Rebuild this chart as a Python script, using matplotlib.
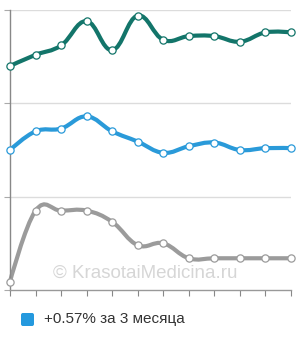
import numpy as np
import matplotlib.pyplot as plt
from matplotlib.path import Path
from matplotlib.patches import PathPatch, FancyBboxPatch

plt.rcParams['font.family'] = ['Liberation Sans', 'DejaVu Sans']

# --- data (value scale 0..300, three bands) ---
months = list(range(12))
teal_vals = [240, 252, 262, 288, 257, 294, 268, 272, 272, 266, 276, 276]
blue_vals = [150, 170, 173, 186, 170, 159, 147, 154, 158, 150, 152, 152]
gray_vals = [9, 85, 85, 85, 73, 48, 50, 34, 34, 34, 34, 34]
grid_levels = [0, 100, 200, 300]
legend_text = "+0.57% за 3 месяца"
watermark = "© KrasotaiMedicina.ru"

teal = '#13756a'
blue = '#2a9ad9'
gray = '#9b9b9b'


def spline_path(xs, ys, smoothing=1.5):
    # bezier spline through the points (highcharts-like)
    n = len(xs)
    den = smoothing + 1
    left, right = [], []
    for i in range(n):
        if i == 0 or i == n - 1:
            left.append((xs[i], ys[i]))
            right.append((xs[i], ys[i]))
            continue
        lx = (smoothing * xs[i] + xs[i - 1]) / den
        ly = (smoothing * ys[i] + ys[i - 1]) / den
        rx = (smoothing * xs[i] + xs[i + 1]) / den
        ry = (smoothing * ys[i] + ys[i + 1]) / den
        corr = (ry - ly) * (rx - xs[i]) / (rx - lx) + ys[i] - ry
        left.append((lx, ly + corr))
        right.append((rx, ry + corr))
    verts = [(xs[0], ys[0])]
    codes = [Path.MOVETO]
    for i in range(1, n):
        verts += [right[i - 1], left[i], (xs[i], ys[i])]
        codes += [Path.CURVE4] * 3
    return Path(verts, codes)


fig = plt.figure(figsize=(3.0, 3.4), dpi=100)
ax = fig.add_axes([10 / 300, (340 - 290) / 340, 281 / 300, 280 / 340])
ax.set_xlim(0, 11)
ax.set_ylim(0, 300)

for g in grid_levels[1:]:
    ax.axhline(g, color='#dcdcdc', lw=1.0, zorder=0)

for vals, col in [(teal_vals, teal), (blue_vals, blue), (gray_vals, gray)]:
    p = spline_path(months, vals)
    ax.add_patch(PathPatch(p, facecolor='none', edgecolor=col, lw=3.0,
                           capstyle='round', joinstyle='round', zorder=2, clip_on=False))
    ax.plot(months, vals, 'o', ms=5.2, mfc='white', mec=col, mew=0.9,
            zorder=3, clip_on=False)

ax.text(5.3, 18, watermark, fontsize=13.5, color='#d6d6d6',
        ha='center', va='center', zorder=1)

for s in ['top', 'right']:
    ax.spines[s].set_visible(False)
ax.spines['left'].set_color('#888888')
ax.spines['bottom'].set_color('#999999')
ax.spines['left'].set_linewidth(1.0)
ax.spines['bottom'].set_linewidth(1.0)
ax.set_xticks(months)
ax.set_yticks(grid_levels)
ax.set_xticklabels([])
ax.set_yticklabels([])
ax.tick_params(axis='x', length=4, color='#888888', width=0.8)
ax.tick_params(axis='y', length=4, color='#aaaaaa', width=0.8)

# legend
fig.patches.append(FancyBboxPatch((21 / 300, 1 - 326 / 340), 13 / 300, 13 / 340,
                                  boxstyle='round,pad=0,rounding_size=0.006',
                                  transform=fig.transFigure, facecolor='#2499de',
                                  edgecolor='none'))
fig.text(44 / 300, 1 - 319.5 / 340, legend_text, fontsize=11, color='#333333',
         va='center', ha='left')

fig.savefig('out.png', dpi=100)
